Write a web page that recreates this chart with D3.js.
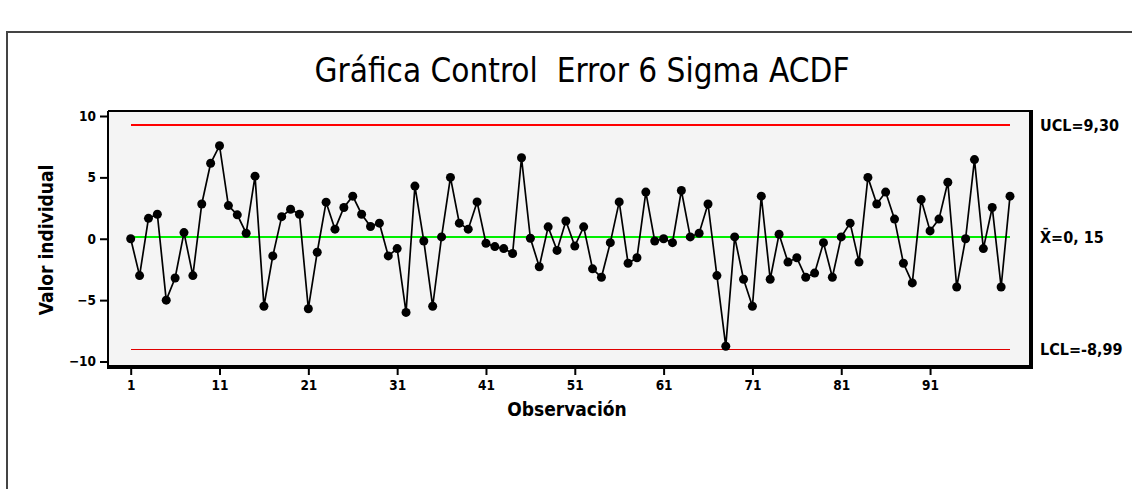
<!DOCTYPE html>
<html><head><meta charset="utf-8">
<script src="https://cdn.jsdelivr.net/npm/d3@7"></script>
<style>
html,body{margin:0;padding:0;background:#fff;}
svg{display:block;}
</style></head>
<body>
<svg id="chart" width="1132" height="489"></svg>
<script>
const title = "Gráfica Control  Error 6 Sigma ACDF";
const xLabel = "Observación";
const yLabel = "Valor individual";
const values = [
  0.0, -3.0, 1.66, 2.0, -5.0, -3.2, 0.5, -3.0, 2.83, 6.15,
  7.58, 2.7, 1.95, 0.45, 5.1, -5.5, -1.4, 1.8, 2.4, 2.0,
  -5.7, -1.1, 2.98, 0.78, 2.55, 3.47, 2.0, 1.0, 1.27, -1.4,
  -0.8, -6.0, 4.29, -0.18, -5.5, 0.15, 5.0, 1.27, 0.78, 3.0,
  -0.37, -0.64, -0.8, -1.2, 6.6, 0.04, -2.28, 0.97, -0.95, 1.45,
  -0.6, 0.97, -2.45, -3.14, -0.32, 3.0, -2.0, -1.55, 3.8, -0.18,
  0.0, -0.32, 3.93, 0.15, 0.45, 2.83, -3.0, -8.76, 0.15, -3.3,
  -5.5, 3.47, -3.3, 0.37, -1.9, -1.55, -3.14, -2.8, -0.32, -3.14,
  0.15, 1.27, -1.9, 5.0, 2.83, 3.8, 1.6, -2.0, -3.6, 3.19,
  0.64, 1.6, 4.6, -3.93, 0.0, 6.45, -0.8, 2.55, -3.93, 3.47
];
const observations = values.map((v, i) => i + 1);
const xTicks = [1, 11, 21, 31, 41, 51, 61, 71, 81, 91];
const yTicks = [-10, -5, 0, 5, 10];
const limitValues = [9.30, 0.15, -8.99];
const limitLabels = ["UCL=9,30", "X̄=0, 15", "LCL=-8,99"];
const limitColors = ["#ff0000", "#00ee00", "#e00000"];
const limitWidths = [2, 2, 1];

const svg = d3.select("#chart");
const frame = {left: 108, right: 1031, top: 111, bottom: 367};

const cond = "'DejaVu Sans Condensed','DejaVu Sans',sans-serif";

// outer border (cropped)
svg.append("rect").attr("x", 7).attr("y", 32).attr("width", 1140).attr("height", 500)
  .attr("fill", "none").attr("stroke", "#444").attr("stroke-width", 2);

svg.append("text").attr("x", 582).attr("y", 82).attr("text-anchor", "middle")
  .style("white-space", "pre").attr("xml:space", "preserve")
  .attr("font-family", cond)
  .attr("font-size", 33).attr("fill", "#000").text(title);

const x = d3.scaleLinear().domain([1, 100]).range([130.7, 1010]);
const y = d3.scaleLinear().domain([-10, 10]).range([361.5, 116]);

// plot background
svg.append("rect").attr("x", frame.left).attr("y", frame.top)
  .attr("width", frame.right - frame.left).attr("height", frame.bottom - frame.top)
  .attr("fill", "#f4f4f4");

// limit lines
limitValues.forEach((v, i) => {
  svg.append("line").attr("x1", x(1)).attr("x2", x(100))
    .attr("y1", y(v)).attr("y2", y(v))
    .attr("shape-rendering", "crispEdges")
    .attr("stroke", limitColors[i]).attr("stroke-width", limitWidths[i]);
});

// series line
svg.append("path").datum(values)
  .attr("fill", "none").attr("stroke", "#000").attr("stroke-width", 1.7)
  .attr("d", d3.line().x((d, i) => x(observations[i])).y(d => y(d)));

svg.selectAll("circle.pt").data(values).enter().append("circle")
  .attr("class", "pt").attr("cx", (d, i) => x(observations[i])).attr("cy", d => y(d))
  .attr("r", 4.5).attr("fill", "#000");

// frame borders
svg.append("line").attr("x1", frame.left).attr("x2", frame.right).attr("y1", frame.top).attr("y2", frame.top)
  .attr("stroke", "#000").attr("stroke-width", 2);
svg.append("line").attr("x1", frame.left).attr("x2", frame.left).attr("y1", frame.top).attr("y2", frame.bottom)
  .attr("stroke", "#000").attr("stroke-width", 2);
svg.append("line").attr("x1", frame.left - 1).attr("x2", frame.right + 2).attr("y1", frame.bottom).attr("y2", frame.bottom)
  .attr("stroke", "#000").attr("stroke-width", 4);
svg.append("line").attr("x1", frame.right).attr("x2", frame.right).attr("y1", frame.top - 1).attr("y2", frame.bottom)
  .attr("stroke", "#000").attr("stroke-width", 4);

// y axis
const yAxis = svg.append("g").attr("transform", `translate(${frame.left},0)`)
  .call(d3.axisLeft(y).tickValues(yTicks).tickSize(8).tickPadding(4).tickFormat(d3.format("d")));
yAxis.select(".domain").remove();
yAxis.selectAll("line").attr("stroke", "#000").attr("stroke-width", 2);
yAxis.selectAll("text").attr("font-family", cond).attr("font-weight", "bold").attr("font-size", 13.5).attr("fill", "#000");

// x axis
const xAxis = svg.append("g").attr("transform", `translate(0,${frame.bottom + 2})`)
  .call(d3.axisBottom(x).tickValues(xTicks).tickSize(6).tickPadding(5).tickFormat(d3.format("d")));
xAxis.select(".domain").remove();
xAxis.selectAll("line").attr("stroke", "#000").attr("stroke-width", 2);
xAxis.selectAll("text").attr("font-family", cond).attr("font-weight", "bold").attr("font-size", 13.5).attr("fill", "#000");

svg.append("text").attr("x", 567).attr("y", 416).attr("text-anchor", "middle")
  .attr("font-family", cond).attr("font-weight", "bold").attr("font-size", 19).attr("fill", "#000")
  .text(xLabel);
svg.append("text").attr("transform", "translate(53,240) rotate(-90)").attr("text-anchor", "middle")
  .attr("font-family", cond).attr("font-weight", "bold").attr("font-size", 19).attr("fill", "#000")
  .text(yLabel);

limitValues.forEach((v, i) => {
  svg.append("text").attr("x", 1040).attr("y", y(v) + 6)
    .attr("font-family", cond).attr("font-weight", "bold").attr("font-size", 16).attr("fill", "#000")
    .text(limitLabels[i]);
});
</script>
</body></html>
